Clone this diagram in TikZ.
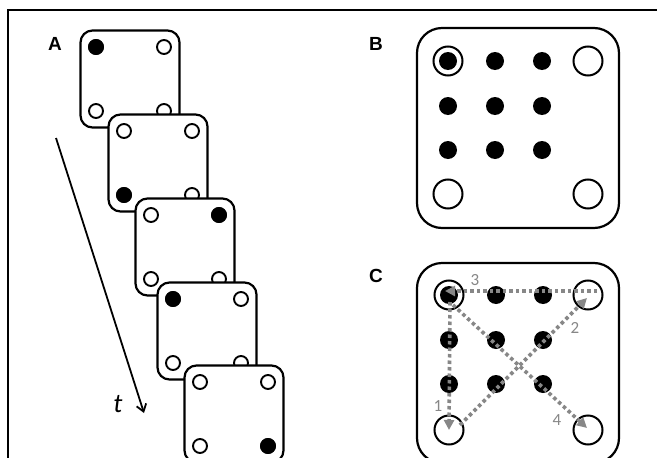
\documentclass[tikz,border=0pt]{standalone}
\usepackage{fontspec}
\setmainfont{Liberation Sans}
\newfontfamily\calibri{Carlito}
\usetikzlibrary{arrows.meta}

\definecolor{routegray}{RGB}{135,135,135}

\tikzset{
  card/.style={draw, line width=2.2pt, fill=white, rounded corners=12pt,
    minimum width=99pt, minimum height=97pt, inner sep=0pt},
  hole/.style={circle, draw, line width=1.9pt, fill=white, minimum size=14pt, inner sep=0pt},
  pin/.style={hole, fill=black},
  board/.style={draw, line width=2.2pt, fill=white, rounded corners=25pt,
    minimum width=202pt, minimum height=200pt, inner sep=0pt},
  well/.style={circle, draw, line width=2pt, minimum size=29pt, inner sep=0pt},
  dot/.style={circle, fill=black, minimum size=18pt, inner sep=0pt},
  panel/.style={font=\bfseries\fontsize{19}{19}\selectfont, inner sep=0pt},
  route/.style={routegray, line width=3.6pt, dash pattern=on 3.5pt off 3pt,
    -{Triangle[length=10pt, width=10pt]}},
  numlabel/.style={routegray, font=\calibri\fontsize{17}{17}\selectfont, inner sep=0pt}
}

\begin{document}
\begin{tikzpicture}[x=1pt, y=-1pt]
    \useasboundingbox (0,0) rectangle (657,458);

    % Frame (top and left edge only)
    \draw[line width=1.2pt] (8,458) -- (8,10) -- (657,10);

    % Panel labels
    \node[panel] (labA) at (55,44) {A};
    \node[panel] (labB) at (376,44) {B};
    \node[panel] (labC) at (376,276) {C};

    % A: stack of cards, one pin set per card
    \foreach \n/\x/\y/\on in {1/130/79/nw, 2/158/163/sw, 3/185/247/ne, 4/207/331/nw, 5/234/414/se} {
        \begin{scope}[shift={(\x,\y)}]
            \node[card] (card\n) at (0,0) {};
            \node[hole] (card\n-nw) at (-34,-32) {};
            \node[hole] (card\n-ne) at (34,-32) {};
            \node[hole] (card\n-sw) at (-34,32) {};
            \node[hole] (card\n-se) at (34,32) {};
            \node[pin] at (card\n-\on) {};
        \end{scope}
    }

    % Time arrow
    \coordinate (tstart) at (56,138);
    \coordinate (tend) at (144,413);
    \draw[line width=1.8pt, -{Straight Barb[length=7pt, width=10pt]}] (tstart) -- (tend);
    \node[font=\calibri\itshape\fontsize{27}{27}\selectfont, inner sep=0pt] (tlab) at (118,404) {t};

    % B: board with 3x3 dots and four wells
    \begin{scope}[shift={(518,128)}]
        \node[board] (boardB) at (0,0) {};
        \foreach \i/\x in {0/-70, 1/-23, 2/24}
            \foreach \j/\y in {0/-67, 1/-22, 2/22}
                \node[dot] (b\i\j) at (\x,\y) {};
        \node[well] (bNW) at (-70,-67) {};
        \node[well] (bNE) at (70,-67) {};
        \node[well] (bSW) at (-70,66) {};
        \node[well] (bSE) at (70,66) {};
    \end{scope}

    % C: same board with the route
    \begin{scope}[shift={(518,363)}]
        \node[board] (boardC) at (0,0) {};
        \foreach \i/\x in {0/-69, 1/-22, 2/25}
            \foreach \j/\y in {0/-68, 1/-23, 2/21}
                \node[dot] (c\i\j) at (\x,\y) {};
        \node[well] (cNW) at (-69,-68) {};
        \node[well] (cNE) at (70,-68) {};
        \node[well] (cSW) at (-69,67) {};
        \node[well] (cSE) at (70,67) {};
    \end{scope}

    \draw[route] ([shift={(1,7)}]cNW.center) -- (cSW.center);
    \draw[route] ([shift={(11,-5)}]cSW.center) -- ([shift={(-1,3)}]cNE.center);
    \draw[route] ([shift={(9,-4)}]cNE.center) -- ([shift={(-4,-4)}]cNW.center);
    \draw[route] ([shift={(4,10)}]cNW.center) -- ([shift={(-1,-2)}]cSE.center);

    \node[numlabel] (n1) at (438,406) {1};
    \node[numlabel] (n2) at (575,328) {2};
    \node[numlabel] (n3) at (475,280) {3};
    \node[numlabel] (n4) at (557,420) {4};
\end{tikzpicture}
\end{document}
